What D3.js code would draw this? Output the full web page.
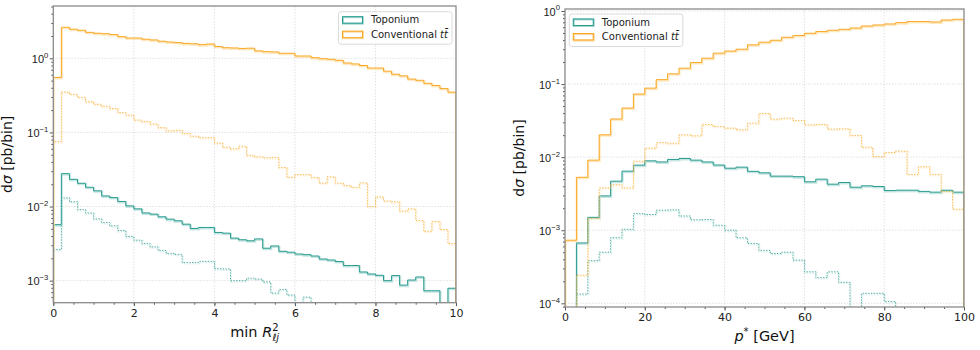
<!DOCTYPE html>
<html>
<head>
<meta charset="utf-8">
<script src="https://cdn.jsdelivr.net/npm/d3@7"></script>
<style>
  body { margin: 0; background: #fff; }
  svg { font-family: "DejaVu Sans", sans-serif; }
  .tick text { font-size: 11px; fill: #222; }
</style>
</head>
<body>
<div id="chart"></div>
<script>
const WIDTH = 980, HEIGHT = 350;

// ---- data ----
const seriesNames = ["Toponium", "Conventional t\u0304"];

// left panel: min R^2, 50 bins on [0, 10]
const leftRange = [0, 10], leftBins = 50;
const topoSolidL = [0.0057, 0.0278, 0.0233, 0.0206, 0.0182, 0.0163, 0.0139, 0.0132, 0.0117, 0.0102,
  0.0093, 0.0082, 0.0079, 0.00727, 0.00676, 0.00642, 0.00578, 0.00506, 0.00522, 0.00522,
  0.00447, 0.00437, 0.00375, 0.00356, 0.00345, 0.00366, 0.00274, 0.00294, 0.00249, 0.00242,
  0.00229, 0.00224, 0.00215, 0.00196, 0.0019, 0.00181, 0.0016, 0.0016, 0.00131, 0.00123,
  0.00118, 0.001, 0.00117, 0.00087, 0.00102, 0.00112, 0.00073, 0.00073, 0, 0.00079];
const topoDotL = [0.00264, 0.0131, 0.0116, 0.0091, 0.0082, 0.00682, 0.0061, 0.0055, 0.00475, 0.00394,
  0.00352, 0.00318, 0.00286, 0.00256, 0.00233, 0.00226, 0.00176, 0.00176, 0.00182, 0.00182,
  0.00145, 0.00144, 0.001, 0.001, 0.00108, 0.00105, 0.00096, 0.00068, 0.00076, 0.00064,
  0, 0.0006, 0, 0, 0, 0, 0, 0, 0, 0,
  0, 0, 0, 0, 0, 0, 0, 0, 0, 0];
const convSolidL = [0.553, 2.62, 2.47, 2.39, 2.24, 2.18, 2.15, 2.09, 1.96, 1.88,
  1.88, 1.81, 1.77, 1.70, 1.66, 1.63, 1.59, 1.57, 1.53, 1.56,
  1.44, 1.39, 1.38, 1.36, 1.37, 1.26, 1.23, 1.22, 1.17, 1.17,
  1.075, 1.075, 1.02, 0.99, 0.97, 0.94, 0.865, 0.84, 0.80, 0.74,
  0.74, 0.67, 0.61, 0.58, 0.525, 0.505, 0.46, 0.43, 0.39, 0.35];
const convDotL = [0.0755, 0.35, 0.326, 0.297, 0.26, 0.24, 0.226, 0.21, 0.186, 0.171,
  0.147, 0.14, 0.13, 0.116, 0.105, 0.107, 0.097, 0.089, 0.085, 0.085,
  0.072, 0.063, 0.06, 0.065, 0.049, 0.0469, 0.0455, 0.046, 0.0336, 0.0249,
  0.027, 0.027, 0.0247, 0.0207, 0.0252, 0.0207, 0.0192, 0.0182, 0.0209, 0.01,
  0.0135, 0.0119, 0.0116, 0.0087, 0.0093, 0.0065, 0.00464, 0.0063, 0.00489, 0.00316];

// right panel: p*, 35 bins on [0, 100] GeV
const rightRange = [0, 100], rightBins = 35;
const topoSolidR = [0, 0.00067, 0.0015, 0.00295, 0.00469, 0.00643, 0.00777, 0.0089, 0.0086, 0.0093,
  0.0096, 0.0091, 0.0086, 0.0078, 0.00706, 0.0073, 0.0064, 0.0061, 0.0055, 0.0055,
  0.0054, 0.0046, 0.005, 0.00427, 0.0045, 0.00388, 0.00405, 0.00397, 0.00349, 0.00353,
  0.00353, 0.0034, 0.00332, 0.00353, 0.00332];
const topoDotR = [0, 0.000134, 0.000384, 0.0005, 0.00079, 0.00103, 0.00169, 0.00164, 0.00188, 0.0019,
  0.00157, 0.00139, 0.0014, 0.00117, 0.001, 0.00079, 0.00066, 0.00053, 0.00048, 0.0005,
  0.00039, 0.00027, 0.000225, 0.00027, 0.000194, 0, 0.000137, 0.000137, 0.000106, 0,
  0, 0, 0, 0, 0];
const convSolidR = [0.00073, 0.0053, 0.0091, 0.0202, 0.0333, 0.047, 0.073, 0.088, 0.115, 0.138,
  0.165, 0.197, 0.226, 0.265, 0.283, 0.30, 0.344, 0.374, 0.398, 0.437,
  0.461, 0.496, 0.523, 0.545, 0.562, 0.586, 0.624, 0.644, 0.665, 0.693,
  0.716, 0.716, 0.708, 0.754, 0.77];
const convDotR = [0, 0.000243, 0.00146, 0.0038, 0.0042, 0.0038, 0.0088, 0.0133, 0.0159, 0.0155,
  0.0202, 0.0196, 0.028, 0.0263, 0.025, 0.0237, 0.0292, 0.0396, 0.0332, 0.0342,
  0.0318, 0.0277, 0.028, 0.0242, 0.0244, 0.0198, 0.0137, 0.0102, 0.0116, 0.0121,
  0.0058, 0.0074, 0.0058, 0.00339, 0.00194];

const xTicksL = [0, 2, 4, 6, 8, 10];
const xTicksR = [0, 20, 40, 60, 80, 100];
const yExpL = [-3, -2, -1, 0];
const yExpR = [-4, -3, -2, -1, 0];

// ---- styling ----
const TEAL = "#279a8f", TEAL_LIGHT = "#a9d9d3";
const ORANGE = "#f9a723", ORANGE_LIGHT = "#fddb9e";

const svg = d3.select("#chart").append("svg")
  .attr("width", WIDTH).attr("height", HEIGHT);

const panels = [
  { id: "L", left: 53.3, right: 456, top: 6, bottom: 302.7,
    xDomain: leftRange, nBins: leftBins, yDomain: [5.04e-4, 5.08],
    xTicks: xTicksL, minorStep: 0.5, yExp: yExpL,
    series: [topoSolidL, convSolidL, topoDotL, convDotL],
    legend: { x: 338.5, y: 11.7 }, xlabel: "L" },
  { id: "R", left: 565, right: 964, top: 9, bottom: 307,
    xDomain: rightRange, nBins: rightBins, yDomain: [8.9e-5, 1.065],
    xTicks: xTicksR, minorStep: 5, yExp: yExpR,
    series: [topoSolidR, convSolidR, topoDotR, convDotR],
    legend: { x: 569.3, y: 14 }, xlabel: "R" }
];

const looks = [
  { color: TEAL, light: TEAL_LIGHT, dash: null, op: 1 },
  { color: ORANGE, light: ORANGE_LIGHT, dash: null, op: 1 },
  { color: TEAL, light: TEAL_LIGHT, dash: "1.3,1.5", op: 0.8 },
  { color: ORANGE, light: ORANGE_LIGHT, dash: "1.3,1.5", op: 0.8 }
];

panels.forEach(p => {
  const x = d3.scaleLinear().domain(p.xDomain).range([p.left, p.right]);
  const y = d3.scaleLog().domain(p.yDomain).range([p.bottom, p.top]);
  const g = svg.append("g");
  const floor = p.yDomain[0] / 100;

  svg.append("clipPath").attr("id", "clip" + p.id)
    .append("rect").attr("x", p.left).attr("y", p.top)
    .attr("width", p.right - p.left).attr("height", p.bottom - p.top);

  // gridlines
  const majorY = p.yExp.map(e => Math.pow(10, e));
  g.append("g").selectAll("line").data(p.xTicks.slice(1, -1)).join("line")
    .attr("x1", d => x(d)).attr("x2", d => x(d))
    .attr("y1", p.top).attr("y2", p.bottom)
    .attr("stroke", "#d9d9d9").attr("stroke-width", 0.8).attr("stroke-dasharray", "1.5,1.5");
  g.append("g").selectAll("line").data(majorY).join("line")
    .attr("x1", p.left).attr("x2", p.right)
    .attr("y1", d => y(d)).attr("y2", d => y(d))
    .attr("stroke", "#d9d9d9").attr("stroke-width", 0.8).attr("stroke-dasharray", "1.5,1.5");

  // histograms (step outlines)
  const edges = d3.range(p.nBins + 1).map(i => p.xDomain[0] + i * (p.xDomain[1] - p.xDomain[0]) / p.nBins);
  const line = d3.line().x(d => x(d[0])).y(d => y(Math.max(d[1], floor)));
  const hg = g.append("g").attr("clip-path", `url(#clip${p.id})`);
  p.series.forEach((vals, si) => {
    const pts = [[edges[0], 0]];
    vals.forEach((v, i) => { pts.push([edges[i], v]); pts.push([edges[i + 1], v]); });
    pts.push([edges[p.nBins], 0]);
    const lk = looks[si];
    hg.append("path").attr("d", line(pts))
      .attr("transform", "translate(0.6,1)")
      .attr("fill", "none").attr("stroke", lk.light).attr("stroke-width", 2)
      .attr("stroke-opacity", lk.dash ? 0.5 : 0.65)
      .attr("stroke-dasharray", lk.dash);
    hg.append("path").attr("d", line(pts))
      .attr("fill", "none").attr("stroke", lk.color).attr("stroke-width", 1)
      .attr("stroke-opacity", lk.op)
      .attr("stroke-dasharray", lk.dash);
  });

  // x axis ticks
  const minorX = d3.range(p.xDomain[0], p.xDomain[1] + 1e-9, p.minorStep);
  g.append("g").attr("transform", `translate(0,${p.bottom})`)
    .call(d3.axisBottom(x).tickValues(minorX).tickSize(2).tickFormat(""))
    .call(a => a.select(".domain").remove())
    .selectAll("line").attr("stroke", "#555");
  g.append("g").attr("transform", `translate(0,${p.bottom})`)
    .call(d3.axisBottom(x).tickValues(p.xTicks).tickSize(3.5).tickPadding(3).tickFormat(d3.format("d")))
    .call(a => a.select(".domain").remove())
    .call(a => a.selectAll("text").attr("font-family", "DejaVu Sans").attr("font-size", 11).attr("fill", "#222"))
    .selectAll("line").attr("stroke", "#555");

  // y axis ticks (log)
  const minorY = [];
  for (let e = Math.floor(Math.log10(p.yDomain[0])); e <= 1; e++) {
    for (let k = 2; k <= 9; k++) {
      const v = k * Math.pow(10, e);
      if (v >= p.yDomain[0] && v <= p.yDomain[1]) minorY.push(v);
    }
  }
  g.append("g").attr("transform", `translate(${p.left},0)`)
    .call(d3.axisLeft(y).tickValues(minorY).tickSize(2).tickFormat(""))
    .call(a => a.select(".domain").remove())
    .selectAll("line").attr("stroke", "#555");
  const yAx = g.append("g").attr("transform", `translate(${p.left},0)`)
    .call(d3.axisLeft(y).tickValues(majorY).tickSize(3.5).tickFormat(""))
    .call(a => a.select(".domain").remove());
  yAx.selectAll("line").attr("stroke", "#555");
  yAx.selectAll(".tick").each(function(d) {
    const e = Math.round(Math.log10(d));
    const t = d3.select(this).append("text")
      .attr("x", -5).attr("y", 4.2).attr("text-anchor", "end")
      .attr("font-size", 11).attr("fill", "#222");
    t.append("tspan").text("10");
    t.append("tspan").attr("dy", -5.2).attr("font-size", 7.7)
      .text(e < 0 ? "\u2212" + (-e) : String(e));
  });

  // frame
  g.append("rect").attr("x", p.left).attr("y", p.top)
    .attr("width", p.right - p.left).attr("height", p.bottom - p.top)
    .attr("fill", "none").attr("stroke", "#8a8a8a").attr("stroke-width", 1.3);

  // y label
  const cy = (p.top + p.bottom) / 2;
  const yl = svg.append("text")
    .attr("transform", `translate(${p.left - 41},${cy}) rotate(-90)`)
    .attr("text-anchor", "middle").attr("font-size", 14).attr("fill", "#111");
  yl.append("tspan").text("d");
  yl.append("tspan").attr("font-style", "italic").text("\u03c3");
  yl.append("tspan").text(" [pb/bin]");

  // x label
  const cx = (p.left + p.right) / 2;
  const xl = svg.append("text").attr("x", cx).attr("y", p.bottom + 34)
    .attr("text-anchor", "middle").attr("font-size", 14.5).attr("fill", "#111");
  if (p.xlabel === "L") {
    xl.append("tspan").text("min ");
    xl.append("tspan").attr("font-style", "italic").text("R");
    xl.append("tspan").attr("dy", -6).attr("font-size", 10).text("2");
    xl.append("tspan").attr("dx", -6.4).attr("dy", 10).attr("font-size", 10)
      .attr("font-style", "italic").text("\u2113j");
  } else {
    xl.append("tspan").attr("font-style", "italic").text("p");
    xl.append("tspan").attr("dy", -6).attr("font-size", 10).text("*");
    xl.append("tspan").attr("dy", 6).text("  [GeV]");
  }

  // legend
  const lg = svg.append("g").attr("transform", `translate(${p.legend.x},${p.legend.y})`);
  lg.append("rect").attr("width", 113.5).attr("height", 32.5).attr("rx", 2.5)
    .attr("fill", "#fff").attr("fill-opacity", 0.85)
    .attr("stroke", "#d6d6d6").attr("stroke-width", 0.9);
  [0, 1].forEach(i => {
    const yy = 5 + i * 14.5;
    lg.append("rect").attr("x", 4.5).attr("y", yy + 0.5).attr("width", 20).attr("height", 6.5)
      .attr("fill", "none").attr("stroke", looks[i].light).attr("stroke-width", 2);
    lg.append("rect").attr("x", 4).attr("y", yy).attr("width", 20).attr("height", 6.5)
      .attr("fill", "none").attr("stroke", looks[i].color).attr("stroke-width", 1);
    const tx = lg.append("text").attr("x", 32.5).attr("y", yy + 6.5)
      .attr("font-size", 10).attr("fill", "#222");
    if (i === 0) {
      tx.text(seriesNames[0]);
    } else {
      tx.append("tspan").text("Conventional ");
      tx.append("tspan").attr("font-style", "italic").text("t" + seriesNames[1].slice(-2));
    }
  });
});
</script>
</body>
</html>
